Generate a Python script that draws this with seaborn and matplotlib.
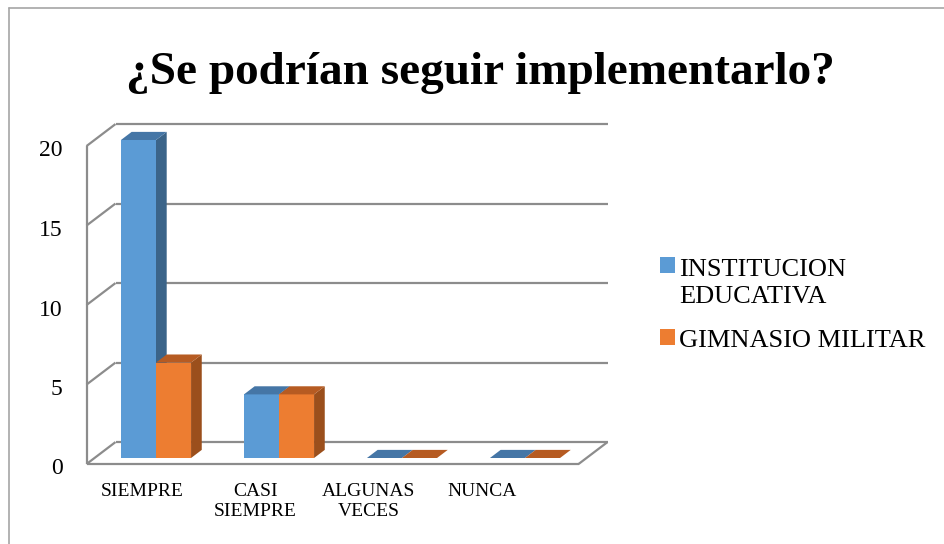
import numpy as np
import pandas as pd
import matplotlib
matplotlib.use('Agg')
import matplotlib.pyplot as plt
import seaborn as sns
from matplotlib.patches import Polygon
from matplotlib.lines import Line2D
from matplotlib.transforms import IdentityTransform, ScaledTranslation

# datos
categorias = ['SIEMPRE', 'CASI\nSIEMPRE', 'ALGUNAS\nVECES', 'NUNCA']
institucion = [20, 4, 0, 0]
gimnasio = [6, 4, 0, 0]
series = ['INSTITUCION\nEDUCATIVA', 'GIMNASIO MILITAR']
yticks = [0, 5, 10, 15, 20]

df = pd.DataFrame({
    'categoria': categorias * 2,
    'valor': institucion + gimnasio,
    'serie': [series[0]] * 4 + [series[1]] * 4,
})

sns.set_style('white')
plt.rcParams['font.family'] = ['Liberation Serif', 'DejaVu Serif']
plt.rcParams['text.color'] = 'black'

W, H = 945, 544
fig = plt.figure(figsize=(W / 100, H / 100), dpi=100)
ax = fig.add_axes([94.5 / W, (H - 458) / H, 492 / W, 318 / H])

frente = ['#5b9bd5', '#ed7d31']
lado = ['#3b6489', '#9b4f1c']
tapa = ['#4576a6', '#b65b22']

sns.barplot(data=df, x='categoria', y='valor', hue='serie', palette=frente,
            width=0.57, saturation=1, linewidth=0, ax=ax)
handles, labels = ax.get_legend_handles_labels()
ax.get_legend().remove()

ax.set_xlim(-0.5, 3.5)
ax.set_ylim(0, 20)
ax.set_autoscale_on(False)
ax.set_xlabel('')
ax.set_ylabel('')
for s in ax.spines.values():
    s.set_visible(False)

# pseudo 3d: profundidad del fondo en pixeles
DX, DY = 29, 22
d_barra = 8 / 29
d_fondo = d_barra + 10.7 / 29


def proyecta(x, y, d):
    px, py = ax.transData.transform((x, y))
    return px + DX * (d - d_barra), py + DY * (d - d_barra)


gris = '#8c8c8c'


def linea(p0, p1, z=0.5):
    ax.add_line(Line2D([p0[0], p1[0]], [p0[1], p1[1]], color=gris, lw=1.6,
                       transform=IdentityTransform(), clip_on=False, zorder=z,
                       solid_capstyle='butt'))


x0, x1 = ax.get_xlim()
for v in yticks:
    linea(proyecta(x0, v, 1), proyecta(x1, v, 1))
    linea(proyecta(x0, v, 0), proyecta(x0, v, 1))
linea(proyecta(x0, 0, 0), proyecta(x0, 20, 0))
linea(proyecta(x0, 0, 0), proyecta(x1, 0, 0))
linea(proyecta(x1, 0, 0), proyecta(x1, 0, 1))

for serie, cont in enumerate(list(ax.containers)[:2]):
    z = 2 + serie * 0.3
    for p in cont.patches:
        p.set_zorder(z)
        bx, bw, bh = p.get_x(), p.get_width(), p.get_height()
        cara = [proyecta(bx + bw, 0, d_barra), proyecta(bx + bw, bh, d_barra),
                proyecta(bx + bw, bh, d_fondo), proyecta(bx + bw, 0, d_fondo)]
        arriba = [proyecta(bx, bh, d_barra), proyecta(bx + bw, bh, d_barra),
                  proyecta(bx + bw, bh, d_fondo), proyecta(bx, bh, d_fondo)]
        ax.add_patch(Polygon(cara, closed=True, facecolor=lado[serie], edgecolor='none',
                             transform=IdentityTransform(), clip_on=False, zorder=z + 0.1))
        ax.add_patch(Polygon(arriba, closed=True, facecolor=tapa[serie], edgecolor='none',
                             transform=IdentityTransform(), clip_on=False, zorder=z + 0.2))

# ejes
ax.set_yticks(yticks)
ax.set_yticklabels([str(v) for v in yticks])
ax.tick_params(axis='y', length=0, pad=23, labelsize=17, colors='black')
ax.tick_params(axis='x', length=0, pad=14, labelsize=14, colors='black')
for lab in ax.get_yticklabels():
    lab.set_transform(lab.get_transform() + ScaledTranslation(0, -8.5 / 100, fig.dpi_scale_trans))
for i, lab in enumerate(ax.get_xticklabels()):
    lab.set_linespacing(1.2)
    lab.set_transform(lab.get_transform() +
                      ScaledTranslation((-14 - 9.5 * i) / 100, -6 / 100, fig.dpi_scale_trans))

fig.text(480 / W, (H - 84) / H, '¿Se podrían seguir implementarlo?', ha='center',
         va='baseline', fontsize=34, fontweight='bold', color='black')

leg = ax.legend(handles, labels, loc='upper left', bbox_to_anchor=(660 / W, (H - 259) / H),
                bbox_transform=fig.transFigure, frameon=False, fontsize=19,
                handlelength=0.57, handleheight=0.57, handletextpad=0.15,
                labelspacing=0.8, borderpad=0, borderaxespad=0)
for t in leg.get_texts():
    t.set_linespacing(1.3)
    t.set_color('black')
h0 = leg.legend_handles[0]
h0.set_y(h0.get_y() + 12.5)

# marco
fig.add_artist(Line2D([9 / W, 9 / W], [0, (H - 8) / H], transform=fig.transFigure,
                      color='#a6a6a6', lw=1.2))
fig.add_artist(Line2D([9 / W, 1], [(H - 8) / H, (H - 8) / H], transform=fig.transFigure,
                      color='#a6a6a6', lw=1.2))

fig.savefig('out.png', dpi=100)
